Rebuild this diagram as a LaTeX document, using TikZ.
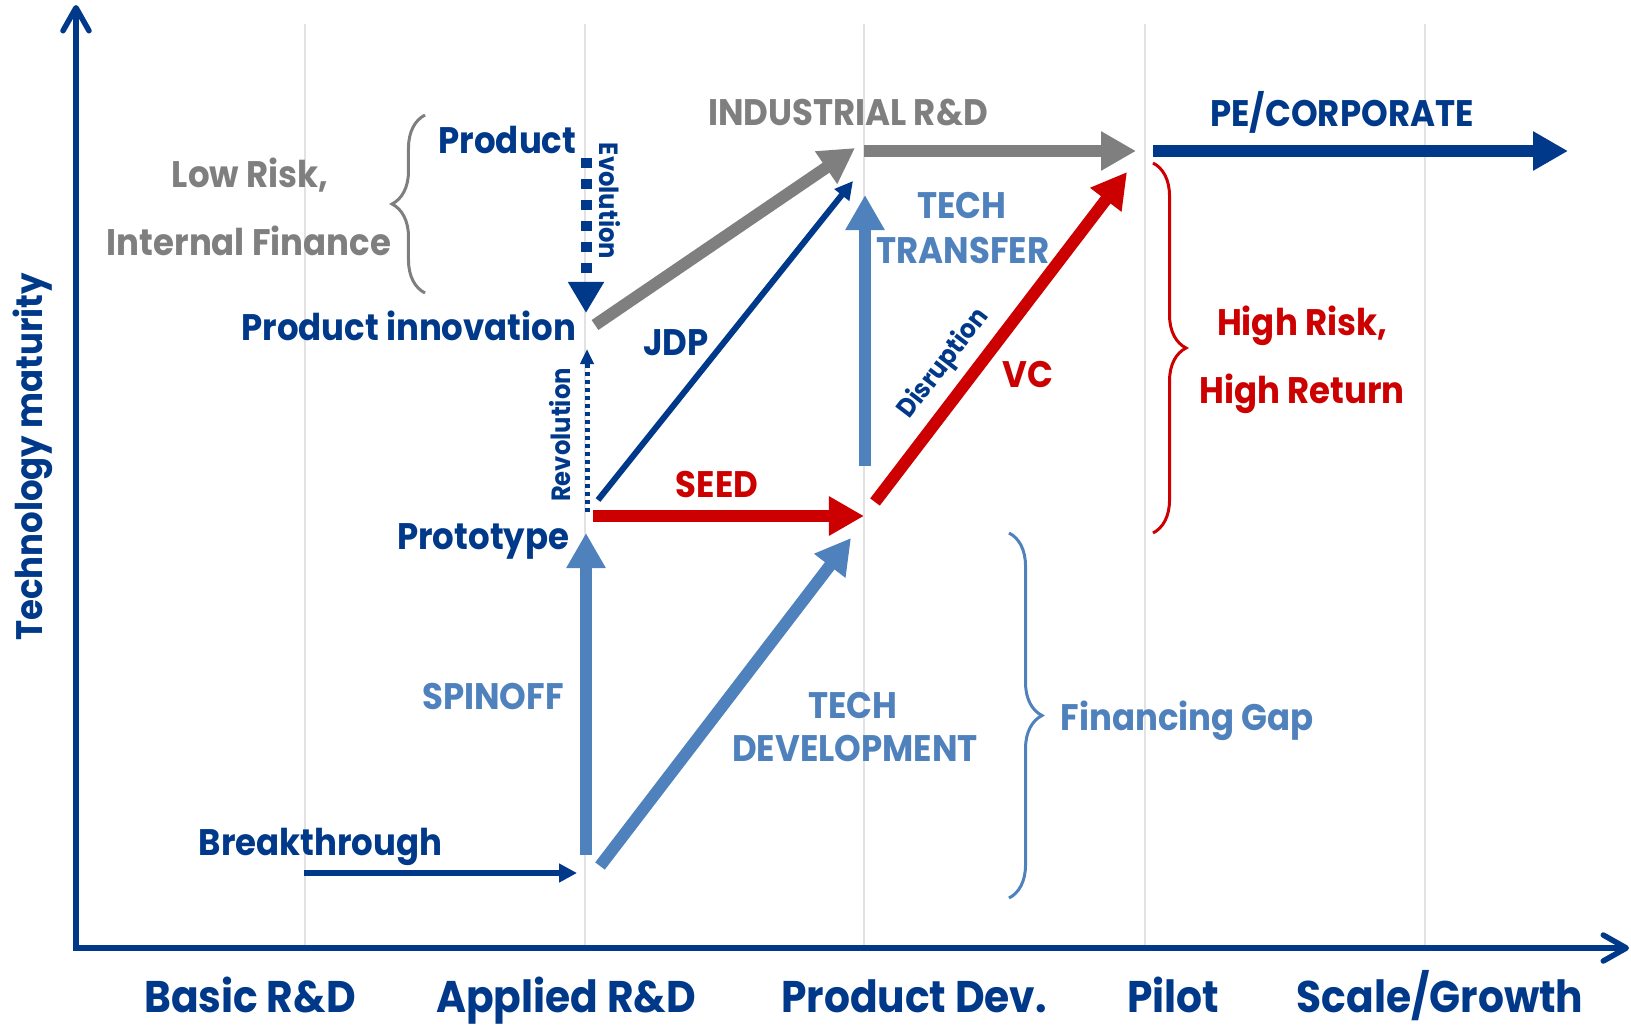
\documentclass[tikz,border=0pt]{standalone}
\usepackage{fontspec}
\setmainfont{Poppins}[FakeStretch=0.92]
\usepackage{tikz}
\usetikzlibrary{arrows.meta, decorations.pathreplacing, positioning, calc}
\definecolor{dblue}{RGB}{0,57,138}
\definecolor{lblue}{RGB}{79,129,189}
\definecolor{dred}{RGB}{204,0,0}
\definecolor{mgray}{RGB}{127,127,127}
\definecolor{gridgray}{RGB}{226,226,226}
\tikzset{
   mylabel/.style={inner sep=0pt, anchor=base, font=\bfseries\fontsize{10.5}{13}\selectfont},
   myaxislabel/.style={inner sep=0pt, anchor=base, text=dblue, font=\bfseries\fontsize{12.6}{15}\selectfont},
   mysmall/.style={inner sep=0pt, text=dblue, font=\bfseries\fontsize{7.5}{9}\selectfont},
   myfat/.style={line width=1.2mm, -{Triangle[length=3.5mm, width=3.7mm]}},
   mythin/.style={line width=0.6mm, -{Triangle[length=1.8mm, width=1.8mm]}},
   mybrace/.style={decorate, decoration={brace, amplitude=3.3mm}, line width=0.3mm}
}

\begin{document}
\begin{tikzpicture}[x=0.01cm, y=-0.01cm]
      \useasboundingbox (0,0) rectangle (1631,1024);
      % stage grid
      \foreach \x in {305,585,864,1145,1425}
        \draw[gridgray, line width=0.2mm] (\x,24) -- (\x,946);
      % axes
      \coordinate (orig) at (76,948);
      \coordinate (ytop) at (76,5);
      \coordinate (xend) at (1629,948);
      \draw[dblue, line width=0.55mm, -{Straight Barb[length=2.3mm, width=2.6mm, round]}] (orig) -- (ytop);
      \draw[dblue, line width=0.55mm, -{Straight Barb[length=2.3mm, width=2.6mm, round]}] (73,948) -- (xend);
      \node[myaxislabel] (basic) at (250,1012) {Basic R\&D};
      \node[myaxislabel] (applied) at (566,1012) {Applied R\&D};
      \node[myaxislabel] (proddev) at (914,1012) {Product Dev.};
      \node[myaxislabel] (pilot) at (1173,1012) {Pilot};
      \node[myaxislabel] (scale) at (1440,1012) {Scale/Growth};
      \node[mylabel, text=dblue, rotate=90] (maturity) at (42,457) {Technology maturity};

      % key points
      \coordinate (brk0) at (304,873);
      \coordinate (brk1) at (577,873);
      \coordinate (spin0) at (586,855);
      \coordinate (spin1) at (586,533);
      \coordinate (dev0) at (600,866);
      \coordinate (dev1) at (851,538);
      \coordinate (seed0) at (593,516);
      \coordinate (seed1) at (864,516);
      \coordinate (rev0) at (587,512);
      \coordinate (rev1) at (587,349);
      \coordinate (evo0) at (586,158);
      \coordinate (evo1) at (586,313);
      \coordinate (jdp0) at (598,500);
      \coordinate (jdp1) at (853,181);
      \coordinate (ind0) at (595,325);
      \coordinate (ind1) at (855,148);
      \coordinate (tt0) at (865,466);
      \coordinate (tt1) at (865,195);
      \coordinate (vc0) at (875,502);
      \coordinate (vc1) at (1127,172);
      \coordinate (indh0) at (864,151);
      \coordinate (indh1) at (1136,151);
      \coordinate (pe0) at (1153,151);
      \coordinate (pe1) at (1568,151);

      % stage labels
      \node[mylabel, text=mgray] (lowrisk) at (250,187) {Low Risk,};
      \node[mylabel, text=mgray] (intfin) at (249,255) {Internal Finance};
      \node[mylabel, text=dblue, anchor=base east] (product) at (577,153) {Product};
      \node[mylabel, text=dblue, anchor=base east] (prodinno) at (577,340) {Product innovation};
      \node[mylabel, text=dblue, anchor=base east] (prototype) at (570,549) {Prototype};
      \node[mylabel, text=dblue, anchor=base west] (breakthrough) at (198,855) {Breakthrough};
      \node[mylabel, text=mgray] (industrial) at (848,125) {INDUSTRIAL R\&D};
      \node[mylabel, text=dblue] (pecorp) at (1342,126) {PE/CORPORATE};
      \node[mylabel, text=lblue] (tech1) at (962,218) {TECH};
      \node[mylabel, text=lblue] (transfer) at (963,263) {TRANSFER};
      \node[mylabel, text=dred] (vc) at (1028,387) {VC};
      \node[mylabel, text=dblue] (jdp) at (676,355) {JDP};
      \node[mylabel, text=dred] (seed) at (717,497) {SEED};
      \node[mylabel, text=lblue] (spinoff) at (493,709) {SPINOFF};
      \node[mylabel, text=lblue] (tech2) at (853,718) {TECH};
      \node[mylabel, text=lblue] (development) at (855,761) {DEVELOPMENT};
      \node[mylabel, text=lblue, anchor=base west] (fingap) at (1060,730) {Financing Gap};
      \node[mylabel, text=dred] (highrisk) at (1302,335) {High Risk,};
      \node[mylabel, text=dred] (highret) at (1302,403) {High Return};
      \node[mysmall, rotate=-90] (evolution) at (610,201) {Evolution};
      \node[mysmall, rotate=90] (revolution) at (560,435) {Revolution};

      % flows
      \draw[mythin, dblue] (brk0) -- (brk1);
      \draw[myfat, lblue] (spin0) -- (spin1);
      \draw[myfat, lblue] (dev0) -- (dev1);
      \draw[myfat, dred] (seed0) -- (seed1);
      \draw[dblue, line width=0.5mm, dash pattern=on 0.4mm off 0.4mm,
            -{Triangle[length=1.5mm, width=1.3mm]}] (rev0) -- (rev1);
      \draw[dblue, line width=1.1mm, dash pattern=on 1mm off 1.1mm,
            -{Triangle[length=3.1mm, width=3.4mm]}] (evo0) -- (evo1);
      \draw[mythin, dblue] (jdp0) -- (jdp1);
      \draw[myfat, mgray] (ind0) -- (ind1);
      \draw[myfat, lblue] (tt0) -- (tt1);
      \draw[myfat, dred] (vc0) -- node[mysmall, sloped, above=0.09cm, pos=0.365] (disruption) {Disruption} (vc1);
      \draw[myfat, mgray] (indh0) -- (indh1);
      \draw[myfat, dblue] (pe0) -- (pe1);

      % braces
      \draw[mybrace, mgray] (425,293) -- (425,115);
      \draw[mybrace, dred] (1153,163) -- (1153,533);
      \draw[mybrace, lblue] (1009,533) -- (1009,898);
\end{tikzpicture}
\end{document}
